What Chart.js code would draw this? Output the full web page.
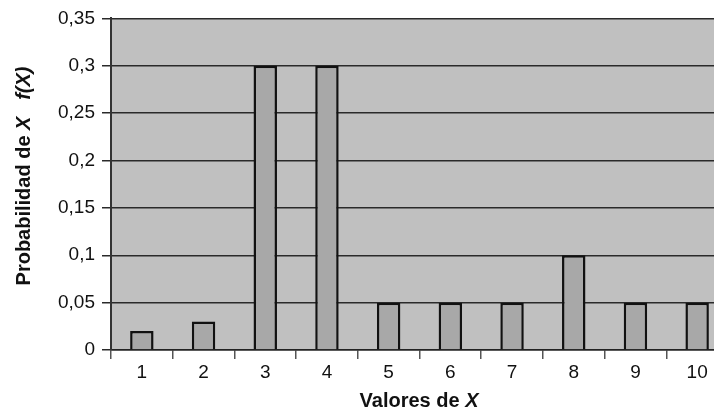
<!DOCTYPE html>
<html>
<head>
<meta charset="utf-8">
<script src="https://cdn.jsdelivr.net/npm/chart.js@4"></script>
<style>
  html, body { margin: 0; padding: 0; background: #fff; overflow: hidden; }
  #wrap { width: 728px; height: 416px; }
</style>
</head>
<body>
<div id="wrap"><canvas id="chart"></canvas></div>
<script>
// values of X and their probabilities
const categories = ["1", "2", "3", "4", "5", "6", "7", "8", "9", "10"]
const probabilities = [0.02, 0.03, 0.3, 0.3, 0.05, 0.05, 0.05, 0.1, 0.05, 0.05]
const yTicks = [0, 0.05, 0.1, 0.15, 0.2, 0.25, 0.3, 0.35]

const FONT = "'Liberation Sans', Arial, sans-serif"

// gray plot area, like the spreadsheet original
const plotBackground = {
  id: 'plotBackground',
  beforeDraw(chart) {
    const { ctx, chartArea } = chart
    ctx.save()
    ctx.fillStyle = '#c0c0c0'
    ctx.fillRect(chartArea.left, chartArea.top, chartArea.right - chartArea.left, chartArea.bottom - chartArea.top)
    ctx.restore()
  }
}

// axis titles with mixed bold / italic pieces
function drawParts(ctx, parts, x, y) {
  let total = 0
  parts.forEach(p => { ctx.font = p.font; total += ctx.measureText(p.text).width })
  let cx = x - total / 2
  parts.forEach(p => {
    ctx.font = p.font
    ctx.fillText(p.text, cx, y)
    cx += ctx.measureText(p.text).width
  })
}

const axisTitles = {
  id: 'axisTitles',
  afterDraw(chart) {
    const { ctx } = chart
    const bold = "bold 20px " + FONT
    const boldItalic = "italic bold 20px " + FONT
    ctx.save()
    ctx.fillStyle = '#111'
    ctx.textBaseline = 'middle'
    ctx.textAlign = 'left'
    drawParts(ctx, [
      { text: 'Valores de ', font: bold },
      { text: 'X', font: boldItalic }
    ], 419, 401)
    ctx.translate(24, 176)
    ctx.rotate(-Math.PI / 2)
    drawParts(ctx, [
      { text: 'Probabilidad de ', font: bold },
      { text: 'X', font: boldItalic },
      { text: '   ', font: bold },
      { text: 'f(X)', font: boldItalic }
    ], 0, 0)
    ctx.restore()
  }
}

new Chart(document.getElementById('chart'), {
  type: 'bar',
  data: {
    labels: categories,
    datasets: [{
      data: probabilities,
      backgroundColor: '#a8a8a8',
      borderColor: '#111',
      borderWidth: 2.5,
      barPercentage: 0.38,
      categoryPercentage: 1
    }]
  },
  options: {
    responsive: true,
    maintainAspectRatio: false,
    animation: false,
    layout: { padding: { top: 18, right: 0, left: 0, bottom: 0 } },
    plugins: {
      legend: { display: false },
      tooltip: { enabled: false }
    },
    scales: {
      x: {
        grid: {
          display: true,
          drawOnChartArea: false,
          drawTicks: true,
          tickLength: 9,
          color: '#555',
          lineWidth: 1.5
        },
        border: { display: true, color: '#222', width: 1.5 },
        ticks: { color: '#111', font: { family: FONT, size: 19 }, padding: 2 },
        afterFit(scale) { scale.height = 66 }
      },
      y: {
        min: 0,
        max: 0.35,
        afterBuildTicks(scale) { scale.ticks = yTicks.map(v => ({ value: v })) },
        grid: {
          color: '#2a2a2a',
          lineWidth: 1.5,
          tickLength: 9
        },
        border: { display: true, color: '#333', width: 2 },
        ticks: {
          color: '#111',
          font: { family: FONT, size: 19 },
          padding: 7,
          callback: v => String(v).replace('.', ',')
        },
        afterFit(scale) { scale.width = 111 }
      }
    }
  },
  plugins: [plotBackground, axisTitles]
})
</script>
</body>
</html>
